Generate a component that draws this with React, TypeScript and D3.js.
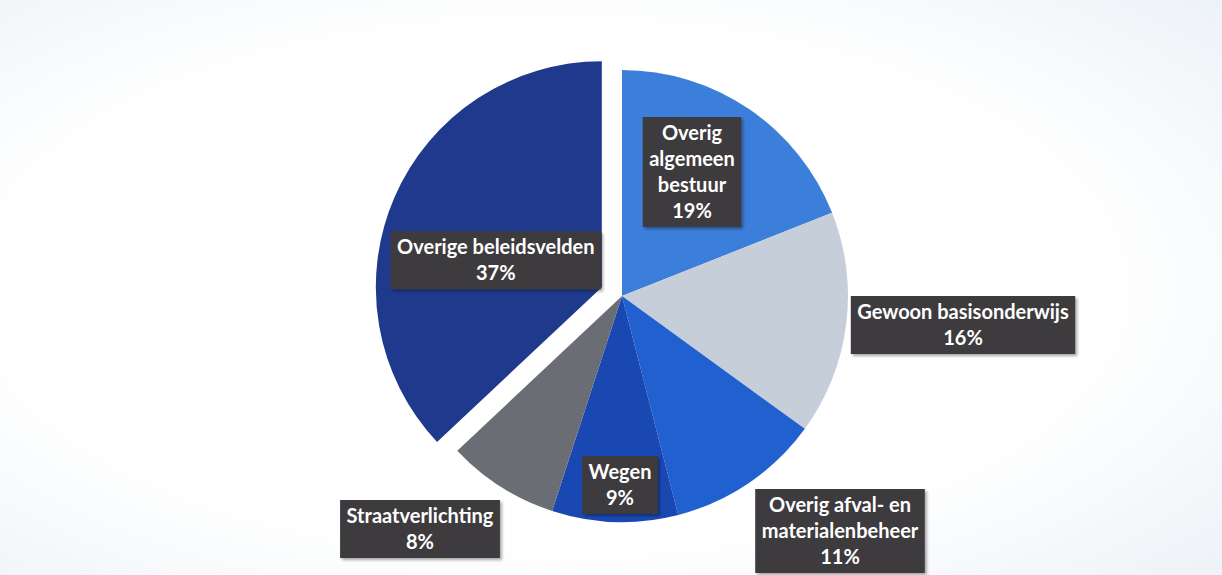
import React, { useEffect, useRef } from "react";
import * as d3 from "d3";

const categories = [
  "Overig algemeen bestuur",
  "Gewoon basisonderwijs",
  "Overig afval- en materialenbeheer",
  "Wegen",
  "Straatverlichting",
  "Overige beleidsvelden",
];
const values = [19, 16, 11, 9, 8, 37];
const labelLines = [
  ["Overig", "algemeen", "bestuur"],
  ["Gewoon basisonderwijs"],
  ["Overig afval- en", "materialenbeheer"],
  ["Wegen"],
  ["Straatverlichting"],
  ["Overige beleidsvelden"],
];
const colors = ["#3c7fdb", "#c6cfd9", "#2160cf", "#1a48b3", "#6b6d75", "#1f3a8d"];
const exploded = [false, false, false, false, false, true];
// label box centres relative to each slice's own pie centre (layout only)
const labelOffsets: [number, number][] = [
  [70, -124],
  [341, 29],
  [218, 235],
  [-2, 189],
  [-202, 233],
  [-106, -27],
];

const W = 1222;
const H = 575;
const CX = 622;
const CY = 296;
const R = 226;
const EXPLODE = 22;
const LINE_H = 26;

export default function App() {
  const ref = useRef<SVGSVGElement | null>(null);

  useEffect(() => {
    const svg = d3.select(ref.current);
    svg.selectAll("*").remove();

    const defs = svg.append("defs");
    const f = defs.append("filter").attr("id", "sh").attr("x", "-10%").attr("y", "-10%").attr("width", "130%").attr("height", "130%");
    f.append("feDropShadow").attr("dx", 2).attr("dy", 2).attr("stdDeviation", 1.5).attr("flood-color", "#000").attr("flood-opacity", 0.35);

    const bg = defs.append("radialGradient").attr("id", "bg").attr("cx", "45%").attr("cy", "50%").attr("r", "75%");
    bg.append("stop").attr("offset", "60%").attr("stop-color", "#ffffff");
    bg.append("stop").attr("offset", "100%").attr("stop-color", "#edf2f7");
    svg.append("rect").attr("width", W).attr("height", H).attr("fill", "url(#bg)");

    const data = categories.map((c, i) => ({ c, v: values[i], i }));
    const pie = d3.pie<any>().value((d) => d.v).sort(null);
    const arcs = pie(data);
    const arc = d3.arc<any>().innerRadius(0).outerRadius(R);

    const g = svg.append("g").attr("transform", `translate(${CX},${CY})`);

    const off = (a: any) => {
      if (!exploded[a.index]) return [0, 0];
      const m = (a.startAngle + a.endAngle) / 2;
      return [Math.sin(m) * EXPLODE, -Math.cos(m) * EXPLODE];
    };

    g.selectAll("path.slice")
      .data(arcs)
      .enter()
      .append("path")
      .attr("class", "slice")
      .attr("d", arc as any)
      .attr("fill", (d: any) => colors[d.index])
      .attr("transform", (d: any) => {
        const [dx, dy] = off(d);
        return `translate(${dx},${dy})`;
      });

    arcs.forEach((a: any) => {
      const [dx, dy] = off(a);
      const [ox, oy] = labelOffsets[a.index];
      const lx = dx + ox;
      const ly = dy + oy;
      const lines = [...labelLines[a.index], `${values[a.index]}%`];
      const lg = g.append("g").attr("transform", `translate(${lx},${ly})`);
      const rect = lg.append("rect").attr("fill", "#3e3a3e").attr("filter", "url(#sh)");
      const t = lg
        .append("text")
        .attr("text-anchor", "middle")
        .attr("fill", "#ffffff")
        .style("font-family", "Lato, 'Open Sans', sans-serif")
        .style("font-weight", "700")
        .style("font-size", "20px");
      const n = lines.length;
      lines.forEach((ln, k) => {
        t.append("tspan")
          .attr("x", 0)
          .attr("y", (k - (n - 1) / 2) * LINE_H)
          .attr("dy", "0.35em")
          .text(ln);
      });
      const node = t.node() as SVGTextElement;
      let w = 0;
      node.querySelectorAll("tspan").forEach((s: any) => {
        w = Math.max(w, s.getComputedTextLength());
      });
      const bw = w + 13;
      const bh = n * LINE_H + 6;
      rect.attr("x", -bw / 2).attr("y", -bh / 2).attr("width", bw).attr("height", bh);
    });
  }, []);

  return (
    <svg
      ref={ref}
      width={W}
      height={H}
      style={{ position: "absolute", left: 0, top: 0, display: "block" }}
    />
  );
}
